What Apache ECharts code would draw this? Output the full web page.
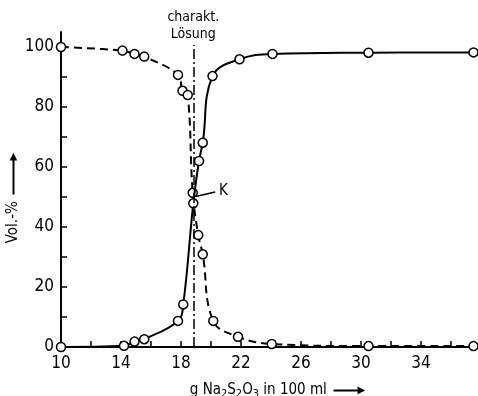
<!DOCTYPE html>
<html>
<head>
<meta charset="utf-8">
<script src="https://cdn.jsdelivr.net/npm/echarts@6/dist/echarts.min.js"></script>
<style>
  html, body { margin: 0; padding: 0; background: #fff; }
  #chart { width: 478px; height: 396px; }
</style>
</head>
<body>
<div id="chart"></div>
<script>
// Lösungskurven (dashed = fallend, solid = steigend)
const xDashed = [10, 14.1, 14.9, 15.55, 17.8, 18.1, 18.45, 18.78, 19.15, 19.45, 20.15, 21.8, 24.05, 30.5, 37.5];
const yDashed = [100, 98.8, 97.7, 96.8, 90.7, 85.4, 84, 51.4, 37.3, 30.9, 8.7, 3.4, 1.0, 0.3, 0.3];
const xSolid = [10, 14.2, 14.9, 15.55, 17.8, 18.15, 18.82, 19.2, 19.45, 20.1, 21.9, 24.1, 30.5, 37.5];
const ySolid = [0, 0.4, 1.8, 2.6, 8.7, 14.2, 47.9, 62, 68.1, 90.3, 95.9, 97.7, 98.1, 98.2];

// charakteristische Lösung und Punkt K
const xCharakt = 18.82;
const kPoint = [18.78, 51.4];

// Achsenbeschriftung
const xLabels = [10, 14, 18, 22, 26, 30, 34];
const xTicks = [10, 12, 14, 16, 18, 20, 22, 24, 26, 28, 30, 32, 34, 36];
const yLabels = [0, 20, 40, 60, 80, 100];
const yTicks = [0, 10, 20, 30, 40, 50, 60, 70, 80, 90, 100];

const FONT = "'Liberation Sans Narrow', 'DejaVu Sans Condensed', 'Liberation Sans', sans-serif";

const chart = echarts.init(document.getElementById('chart'));

const zip = (xs, ys) => xs.map((x, i) => [x, ys[i]]);

const markerStyle = {
    color: '#fff',
    borderColor: '#000',
    borderWidth: 1.5
};

// Pfeil hinter den Achsentiteln: Strich + Spitze
const arrowRich = {
    l: { width: 26, height: 2, backgroundColor: '#000', verticalAlign: 'middle' },
    h: { fontFamily: 'DejaVu Sans', fontSize: 10, color: '#000', verticalAlign: 'middle', padding: [0, 0, 0, -2] }
};

const option = {
    backgroundColor: '#fff',
    animation: false,
    grid: {
        left: 61,
        right: 3,
        top: 32,
        bottom: 49,
        outerBoundsMode: 'none',
        containLabel: false
    },
    xAxis: {
        type: 'value',
        min: 10,
        max: 37.6,
        name: '{t|g Na}{s|2}{t|S}{s|2}{t|O}{s|3}{t| in 100 ml}  {l|}{h|▶}',
        nameLocation: 'middle',
        nameGap: 34,
        nameMoveOverlap: false,
        nameTextStyle: {
            padding: [0, 0, 0, 19],
            rich: Object.assign({
                t: { fontFamily: FONT, fontSize: 15, color: '#000' },
                s: { fontFamily: FONT, fontSize: 11, color: '#000', padding: [8, 0, 0, 0] }
            }, arrowRich)
        },
        splitLine: { show: false },
        axisLine: { lineStyle: { color: '#000', width: 2 } },
        axisTick: {
            inside: true,
            length: 6,
            customValues: xTicks,
            lineStyle: { color: '#000', width: 1.5 }
        },
        axisLabel: {
            customValues: xLabels,
            margin: 8,
            color: '#000',
            fontFamily: FONT,
            fontSize: 17
        }
    },
    yAxis: {
        type: 'value',
        min: 0,
        max: 105,
        name: '{t|Vol.-%}  {l|}{h|▶}',
        nameLocation: 'middle',
        nameRotate: 90,
        nameGap: 40,
        nameMoveOverlap: false,
        nameTextStyle: {
            padding: [0, 17, 0, 0],
            rich: Object.assign({
                t: { fontFamily: FONT, fontSize: 15, color: '#000' }
            }, arrowRich, {
                l: { width: 36, height: 2, backgroundColor: '#000', verticalAlign: 'middle' }
            })
        },
        splitLine: { show: false },
        axisLine: { lineStyle: { color: '#000', width: 2 } },
        axisTick: {
            inside: true,
            length: 6,
            customValues: yTicks,
            lineStyle: { color: '#000', width: 1.5 }
        },
        axisLabel: {
            customValues: yLabels,
            margin: 7,
            color: '#000',
            fontFamily: FONT,
            fontSize: 17
        }
    },
    series: [
        {
            name: 'dashed',
            type: 'line',
            data: zip(xDashed, yDashed),
            smooth: 0.4,
            symbol: 'circle',
            symbolSize: 9,
            itemStyle: markerStyle,
            lineStyle: { color: '#000', width: 2, type: [8, 5] },
            z: 3,
            // Hilfslinie bei der charakteristischen Lösung
            markLine: {
                silent: true,
                symbol: 'none',
                lineStyle: { color: '#000', width: 1.5, type: [10, 3, 2, 3] },
                label: {
                    show: true,
                    position: 'end',
                    formatter: 'charakt.\nLösung',
                    color: '#000',
                    fontFamily: FONT,
                    fontSize: 14,
                    lineHeight: 17,
                    distance: 2
                },
                data: [
                    [{ coord: [xCharakt, 0] }, { coord: [xCharakt, 100.7] }],
                    [
                        {
                            coord: [kPoint[0] + 0.2, kPoint[1] - 1.2],
                            lineStyle: { type: 'solid', width: 1.5 },
                            label: {
                                show: true,
                                position: 'end',
                                formatter: 'K',
                                fontSize: 15,
                                distance: 4
                            }
                        },
                        { coord: [kPoint[0] + 1.5, kPoint[1] + 0.3] }
                    ]
                ]
            }
        },
        {
            name: 'solid',
            type: 'line',
            data: zip(xSolid, ySolid),
            smooth: 0.4,
            symbol: 'circle',
            symbolSize: 9,
            itemStyle: markerStyle,
            lineStyle: { color: '#000', width: 2 },
            z: 4
        }
    ]
};

chart.setOption(option);
</script>
</body>
</html>
